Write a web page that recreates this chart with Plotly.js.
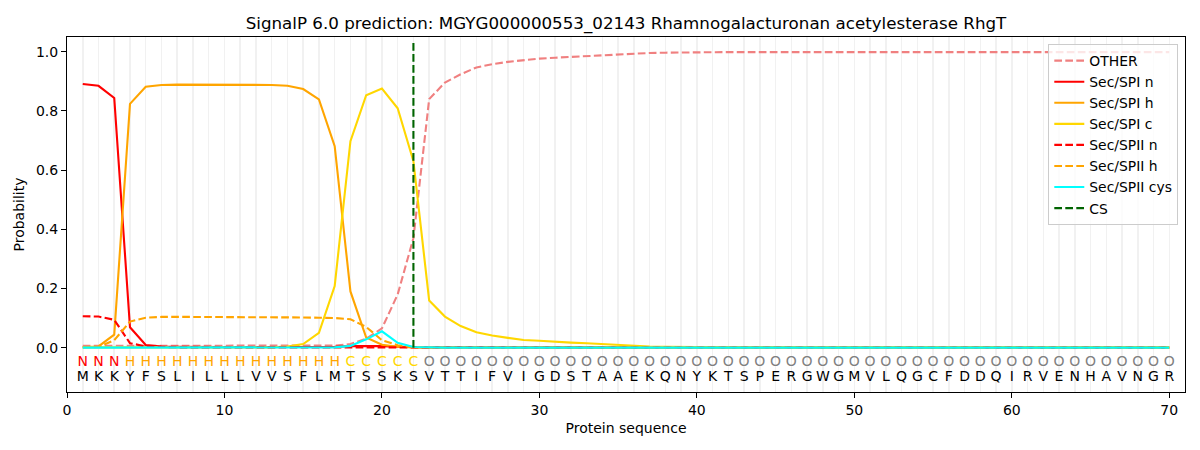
<!DOCTYPE html>
<html>
<head>
<meta charset="utf-8">
<script src="https://cdn.plot.ly/plotly-3.0.1.min.js"></script>
<style>
  body { margin: 0; background: #fff; }
  #chart { width: 1200px; height: 450px; }
</style>
</head>
<body>
<div id="chart"></div>
<script>
// residue sequence and predicted region per residue
var sequence = "MKKYFSLILLLVVSFLMTSSKSVTTIFVIGDSTAAEKQNYKTSPERGWGMVLQGCFDDQIRVENHAVNGR".split("");
var regionLabels = "NNNHHHHHHHHHHHHHHCCCCCOOOOOOOOOOOOOOOOOOOOOOOOOOOOOOOOOOOOOOOOOOOOOOOO".split("");
var positions = sequence.map(function (_, i) { return i + 1; });
var csPosition = 22;

var other = [
  0.006, 0.006, 0.006, 0.006, 0.006, 0.006, 0.006, 0.006, 0.006, 0.006,
  0.006, 0.006, 0.006, 0.006, 0.006, 0.006, 0.007, 0.012, 0.030, 0.065,
  0.180, 0.370, 0.840, 0.896, 0.924, 0.947, 0.958, 0.966, 0.972, 0.977,
  0.980, 0.983, 0.985, 0.987, 0.990, 0.993, 0.996, 0.997, 0.998, 0.999,
  0.999, 0.999, 0.999, 0.999, 0.999, 0.999, 0.999, 0.999, 0.999, 0.999,
  0.999, 0.999, 0.999, 0.999, 0.999, 0.999, 0.999, 0.999, 0.999, 0.999,
  0.999, 0.999, 0.999, 0.999, 0.999, 0.999, 0.999, 0.999, 0.999, 0.999
];
var spiN = [
  0.891, 0.885, 0.844, 0.069, 0.009, 0.004, 0.003, 0.002, 0.002, 0.002,
  0.002, 0.002, 0.002, 0.002, 0.002, 0.002, 0.003, 0.005, 0.006, 0.005,
  0.003, 0.001, 0.001, 0.001, 0.001, 0.001, 0.001, 0.001, 0.001, 0.001,
  0, 0, 0, 0, 0, 0, 0, 0, 0, 0,
  0, 0, 0, 0, 0, 0, 0, 0, 0, 0,
  0, 0, 0, 0, 0, 0, 0, 0, 0, 0,
  0, 0, 0, 0, 0, 0, 0, 0, 0, 0
];
var spiH = [
  0.002, 0.004, 0.044, 0.824, 0.882, 0.888, 0.889, 0.889, 0.889, 0.889,
  0.889, 0.889, 0.888, 0.885, 0.874, 0.839, 0.681, 0.190, 0.034, 0.010,
  0.003, 0.001, 0, 0, 0, 0, 0, 0, 0, 0,
  0, 0, 0, 0, 0, 0, 0, 0, 0, 0,
  0, 0, 0, 0, 0, 0, 0, 0, 0, 0,
  0, 0, 0, 0, 0, 0, 0, 0, 0, 0,
  0, 0, 0, 0, 0, 0, 0, 0, 0, 0
];
var spiC = [
  0.001, 0.001, 0.001, 0.001, 0.001, 0.001, 0.001, 0.001, 0.001, 0.001,
  0.001, 0.001, 0.001, 0.004, 0.012, 0.050, 0.208, 0.698, 0.853, 0.876,
  0.809, 0.630, 0.159, 0.105, 0.073, 0.052, 0.041, 0.033, 0.026, 0.023,
  0.019, 0.017, 0.015, 0.012, 0.009, 0.006, 0.004, 0.003, 0.002, 0.001,
  0.001, 0.001, 0.001, 0.001, 0.001, 0.001, 0.001, 0.001, 0.001, 0.001,
  0.001, 0.001, 0.001, 0.001, 0.001, 0.001, 0.001, 0.001, 0.001, 0.001,
  0.001, 0.001, 0.001, 0.001, 0.001, 0.001, 0.001, 0.001, 0.001, 0.001
];
var spiiN = [
  0.106, 0.105, 0.094, 0.015, 0.004, 0.002, 0.001, 0.001, 0.001, 0.001,
  0.001, 0.001, 0.001, 0.001, 0.001, 0.001, 0.001, 0.001, 0.001, 0.001,
  0, 0, 0, 0, 0, 0, 0, 0, 0, 0,
  0, 0, 0, 0, 0, 0, 0, 0, 0, 0,
  0, 0, 0, 0, 0, 0, 0, 0, 0, 0,
  0, 0, 0, 0, 0, 0, 0, 0, 0, 0,
  0, 0, 0, 0, 0, 0, 0, 0, 0, 0
];
var spiiH = [
  0.001, 0.002, 0.025, 0.088, 0.101, 0.104, 0.104, 0.104, 0.104, 0.104,
  0.104, 0.104, 0.104, 0.103, 0.102, 0.101, 0.100, 0.096, 0.070, 0.025,
  0.008, 0.002, 0, 0, 0, 0, 0, 0, 0, 0,
  0, 0, 0, 0, 0, 0, 0, 0, 0, 0,
  0, 0, 0, 0, 0, 0, 0, 0, 0, 0,
  0, 0, 0, 0, 0, 0, 0, 0, 0, 0,
  0, 0, 0, 0, 0, 0, 0, 0, 0, 0
];
var spiiCys = [
  0, 0, 0, 0, 0, 0, 0, 0, 0, 0,
  0, 0, 0, 0, 0, 0, 0.001, 0.006, 0.028, 0.055,
  0.016, 0.002, 0, 0, 0, 0, 0, 0, 0, 0,
  0, 0, 0, 0, 0, 0, 0, 0, 0, 0,
  0, 0, 0, 0, 0, 0, 0, 0, 0, 0,
  0, 0, 0, 0, 0, 0, 0, 0, 0, 0,
  0, 0, 0, 0, 0, 0, 0, 0, 0, 0
];

var labelColors = { N: "red", H: "orange", C: "gold", O: "gray" };
var dashed = "7.7px,3.3px";

function lineTrace(y, name, color, dash) {
  return {
    x: positions,
    y: y,
    name: name,
    type: "scatter",
    mode: "lines",
    line: { color: color, width: 2.1, dash: dash || "solid" },
    hoverinfo: "skip",
  };
}

var traces = [
  lineTrace(other, "OTHER", "lightcoral", dashed),
  lineTrace(spiN, "Sec/SPI n", "red"),
  lineTrace(spiH, "Sec/SPI h", "orange"),
  lineTrace(spiC, "Sec/SPI c", "gold"),
  lineTrace(spiiN, "Sec/SPII n", "red", dashed),
  lineTrace(spiiH, "Sec/SPII h", "orange", dashed),
  lineTrace(spiiCys, "Sec/SPII cys", "cyan"),
  {
    x: [csPosition, csPosition],
    y: [0, 1.04],
    name: "CS",
    type: "scatter",
    mode: "lines",
    line: { color: "darkgreen", width: 2.1, dash: dashed },
    hoverinfo: "skip",
  },
  {
    x: positions,
    y: positions.map(function () { return -0.05; }),
    text: regionLabels,
    type: "scatter",
    mode: "text",
    textfont: {
      family: "DejaVu Sans",
      size: 14,
      color: regionLabels.map(function (l) { return labelColors[l]; }),
    },
    showlegend: false,
    hoverinfo: "skip",
  },
  {
    x: positions,
    y: positions.map(function () { return -0.1; }),
    text: sequence,
    type: "scatter",
    mode: "text",
    textfont: { family: "DejaVu Sans", size: 14, color: "black" },
    showlegend: false,
    hoverinfo: "skip",
  },
];

var axisCommon = {
  showline: true,
  linecolor: "black",
  linewidth: 1,
  mirror: true,
  ticks: "outside",
  ticklen: 5,
  tickwidth: 1,
  tickcolor: "black",
  zeroline: false,
  tickfont: { family: "DejaVu Sans", size: 14, color: "black" },
};

var layout = {
  width: 1200,
  height: 450,
  margin: { l: 67, r: 15, t: 37, b: 58 },
  paper_bgcolor: "white",
  plot_bgcolor: "white",
  font: { family: "DejaVu Sans", color: "black" },
  title: {
    text: "SignalP 6.0 prediction: MGYG000000553_02143 Rhamnogalacturonan acetylesterase RhgT",
    font: { family: "DejaVu Sans", size: 16.7, color: "black" },
    x: 0.5,
    xref: "paper",
    y: 0.949,
    yref: "container",
    yanchor: "middle",
  },
  xaxis: Object.assign({}, axisCommon, {
    range: [0, 71],
    tick0: 0,
    dtick: 10,
    showgrid: true,
    gridcolor: "#f1f1f1",
    gridwidth: 1.5,
    minor: { tick0: 0, dtick: 1, showgrid: true, gridcolor: "#f1f1f1", gridwidth: 1.5, ticklen: 0 },
    title: { text: "Protein sequence", font: { family: "DejaVu Sans", size: 14 }, standoff: 6 },
  }),
  yaxis: Object.assign({}, axisCommon, {
    range: [-0.15, 1.05],
    tickvals: [0, 0.2, 0.4, 0.6, 0.8, 1.0],
    ticktext: ["0.0", "0.2", "0.4", "0.6", "0.8", "1.0"],
    showgrid: false,
    title: { text: "Probability", font: { family: "DejaVu Sans", size: 14 }, standoff: 8 },
  }),
  legend: {
    x: 0.994,
    y: 0.98,
    xanchor: "right",
    yanchor: "top",
    bgcolor: "rgba(255,255,255,0.8)",
    bordercolor: "#cccccc",
    borderwidth: 1,
    font: { family: "DejaVu Sans", size: 13.9, color: "black" },
    tracegroupgap: 0,
  },
  showlegend: true,
};

Plotly.newPlot("chart", traces, layout, { displayModeBar: false, staticPlot: true });
</script>
</body>
</html>
